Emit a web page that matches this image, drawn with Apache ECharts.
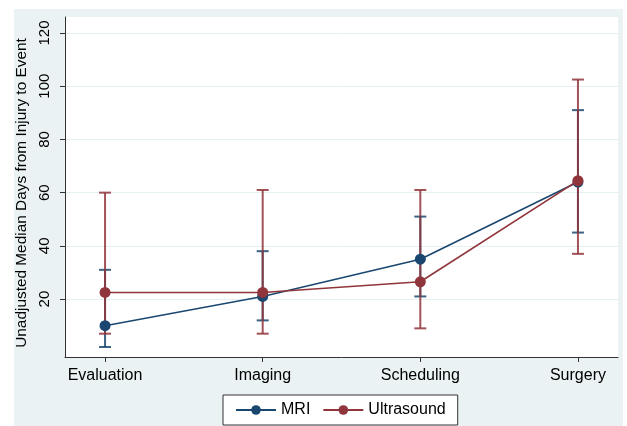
<!DOCTYPE html>
<html><head><meta charset="utf-8">
<script src="https://cdn.jsdelivr.net/npm/echarts@6/dist/echarts.min.js"></script>
<style>html,body{margin:0;padding:0;background:#fff}#c{width:627px;height:426px}</style>
</head><body><div id="c"></div>
<script>
const categories = ['Evaluation', 'Imaging', 'Scheduling', 'Surgery'];
const mriMedian = [10, 21, 35, 64];
const mriLow = [2, 12, 21, 45];
const mriHigh = [31, 38, 51, 91];
const usMedian = [22.5, 22.5, 26.5, 64.5];
const usLow = [7, 7, 9, 37];
const usHigh = [60, 61, 61, 102.5];
const yTicks = [20, 40, 60, 80, 100, 120];

const NAVY = '#1a476f', MAROON = '#90353b';
const F = "'Liberation Sans', Arial, sans-serif";

function pts(arr){ return arr.map((v,i)=>[i+1, v]); }
function bars(lo, hi){ return lo.map((v,i)=>[i+1, v, hi[i]]); }
function errItem(color){
  return function(params, api){
    const x = api.value(0);
    const a = api.coord([x, api.value(1)]);
    const b = api.coord([x, api.value(2)]);
    const w = 6;
    const st = {stroke: color, lineWidth: 2, opacity: 0.85};
    return {type:'group', children:[
      {type:'line', shape:{x1:a[0], y1:a[1], x2:b[0], y2:b[1]}, style:st},
      {type:'line', shape:{x1:a[0]-w, y1:a[1], x2:a[0]+w, y2:a[1]}, style:st},
      {type:'line', shape:{x1:b[0]-w, y1:b[1], x2:b[0]+w, y2:b[1]}, style:st}
    ]};
  };
}

const chart = echarts.init(document.getElementById('c'));
chart.setOption({
  backgroundColor: '#fff',
  animation: false,
  graphic: [{type:'rect', shape:{x:14, y:9, width:609, height:417}, style:{fill:'#eaf2f3'}, z:-10, silent:true}],
  grid: {left:65, right:9, top:17, bottom:69, show:true, backgroundColor:'#fff', borderWidth:0},
  xAxis: {
    type:'value', min:0.746, max:4.254,
    axisLine:{show:true, onZero:false, lineStyle:{color:'#333', width:1}},
    axisTick:{show:true, length:5, customValues:[1,2,3,4], lineStyle:{color:'#333'}},
    axisLabel:{customValues:[1,2,3,4], formatter:v=>categories[Math.round(v)-1]||'', color:'#000', fontFamily:F, fontSize:16, margin:11},
    splitLine:{show:false}
  },
  yAxis: {
    type:'value', min:-1.76, max:126,
    name:'Unadjusted Median Days from Injury to Event', nameLocation:'middle', nameGap:30,
    nameTextStyle:{color:'#000', fontFamily:F, fontSize:15.4, padding:[0,12,0,0]},
    axisLine:{show:true, onZero:false, lineStyle:{color:'#333', width:1}},
    axisTick:{show:true, length:5, customValues:yTicks, lineStyle:{color:'#333'}},
    axisLabel:{customValues:yTicks, rotate:90, color:'#000', fontFamily:F, fontSize:15, margin:13},
    splitLine:{show:true, customValues:yTicks, lineStyle:{color:'#e6eff1', width:1}}
  },
  legend: {
    left:223, top:395, padding:[7,12], itemGap:12, itemWidth:40, itemHeight:12,
    backgroundColor:'#fff', borderColor:'#333', borderWidth:1, borderRadius:0,
    textStyle:{color:'#000', fontFamily:F, fontSize:16},
    data:['MRI','Ultrasound']
  },
  series: [
    {name:'MRI err', type:'custom', renderItem:errItem(NAVY), data:bars(mriLow, mriHigh), z:2, silent:true},
    {name:'US err', type:'custom', renderItem:errItem(MAROON), data:bars(usLow, usHigh), z:3, silent:true},
    {name:'MRI', type:'line', data:pts(mriMedian), color:NAVY, symbol:'circle', symbolSize:11,
      lineStyle:{color:NAVY, width:1.6}, itemStyle:{color:NAVY}, z:4},
    {name:'Ultrasound', type:'line', data:pts(usMedian), color:MAROON, symbol:'circle', symbolSize:11,
      lineStyle:{color:MAROON, width:1.6}, itemStyle:{color:MAROON}, z:5}
  ]
});
</script></body></html>
